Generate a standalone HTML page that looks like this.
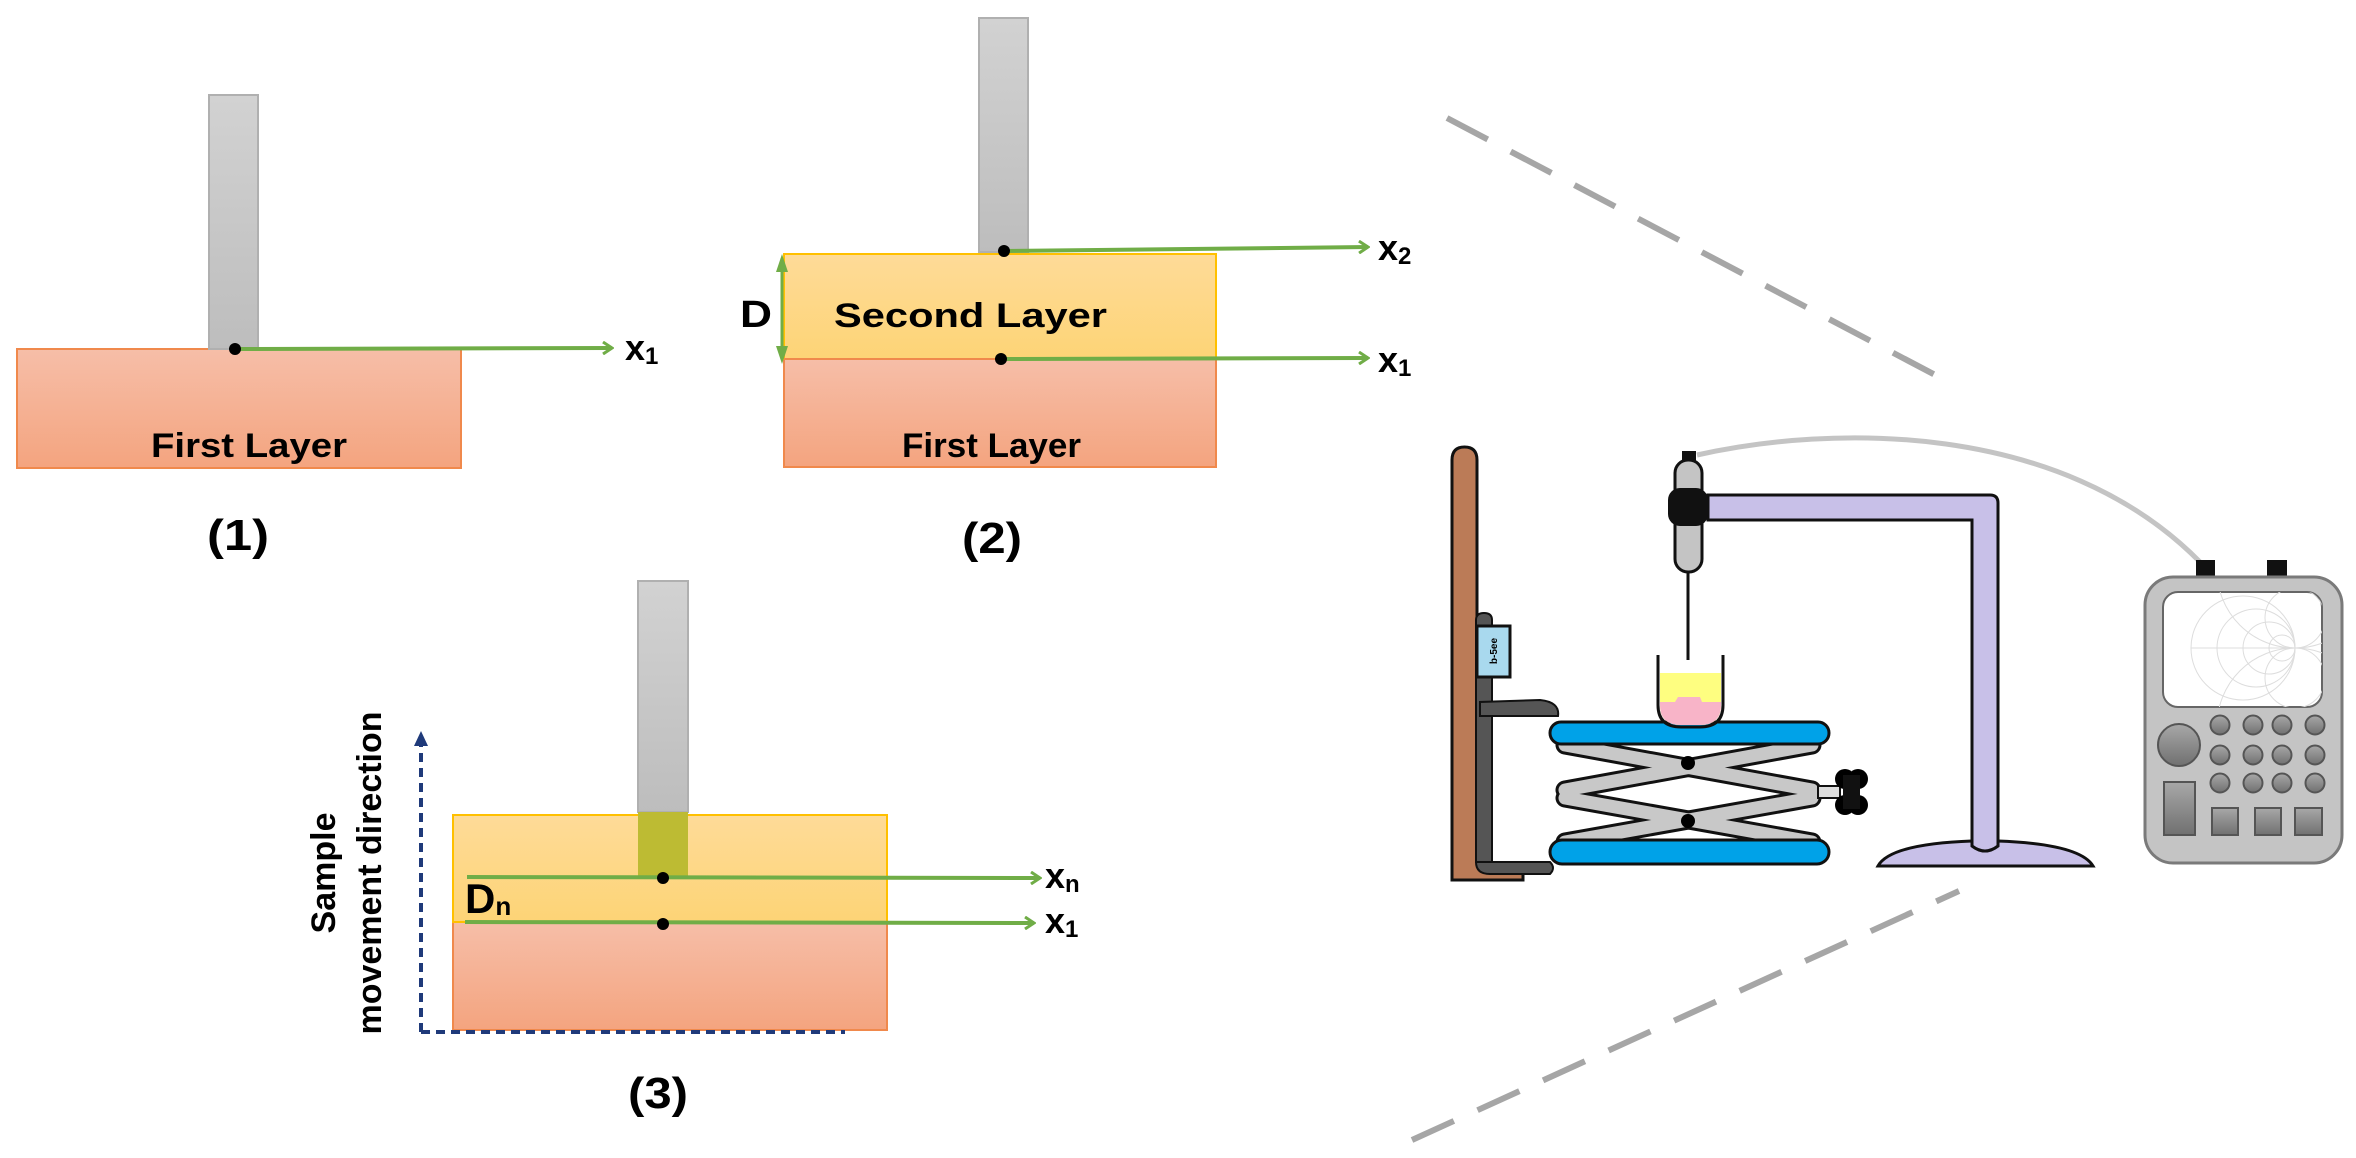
<!DOCTYPE html>
<html><head><meta charset="utf-8"><style>
html,body{margin:0;padding:0;background:#fff;}
svg{display:block;}
text{font-family:"Liberation Sans",sans-serif;font-weight:bold;fill:#000;}
</style></head><body>
<svg width="2356" height="1158" viewBox="0 0 2356 1158" xmlns="http://www.w3.org/2000/svg">
<defs>
<linearGradient id="probe" x1="0" y1="0" x2="0" y2="1"><stop offset="0" stop-color="#d2d2d2"/><stop offset="1" stop-color="#bdbdbd"/></linearGradient>
<linearGradient id="org" x1="0" y1="0" x2="0" y2="1"><stop offset="0" stop-color="#f6bea8"/><stop offset="1" stop-color="#f4a47f"/></linearGradient>
<linearGradient id="yel" x1="0" y1="0" x2="0" y2="1"><stop offset="0" stop-color="#fedb98"/><stop offset="1" stop-color="#fdd476"/></linearGradient>
<linearGradient id="btn" x1="0" y1="0" x2="0" y2="1"><stop offset="0" stop-color="#a8a8a8"/><stop offset="1" stop-color="#707070"/></linearGradient>
<clipPath id="scr"><rect x="2163" y="592" width="159" height="115" rx="15"/></clipPath>
<marker id="ga" markerWidth="12" markerHeight="14" refX="10" refY="7" orient="auto" markerUnits="userSpaceOnUse"><path d="M1,1 L10,7 L1,13" fill="none" stroke="#70ad47" stroke-width="3"/></marker>
</defs>

<!-- Diagram 1 -->
<rect x="17" y="349" width="444" height="119" fill="url(#org)" stroke="#f0894c" stroke-width="2"/>
<rect x="209" y="95" width="49" height="254" fill="url(#probe)" stroke="#b0b0b0" stroke-width="2"/>
<line x1="235" y1="349" x2="612" y2="348" stroke="#70ad47" stroke-width="4" marker-end="url(#ga)"/>
<circle cx="235" cy="349" r="6"/>
<text x="625" y="360" font-size="36">x<tspan font-size="24" dy="4">1</tspan></text>
<text x="151" y="457" font-size="34" textLength="196" lengthAdjust="spacingAndGlyphs">First Layer</text>
<text x="207" y="550" font-size="44" textLength="62" lengthAdjust="spacingAndGlyphs">(1)</text>

<!-- Diagram 2 -->
<rect x="784" y="359" width="432" height="108" fill="url(#org)" stroke="#f0894c" stroke-width="2"/>
<rect x="784" y="254" width="432" height="105" fill="url(#yel)" stroke="#ffc000" stroke-width="2"/>
<line x1="784" y1="359" x2="1216" y2="359" stroke="#f0894c" stroke-width="2"/>
<rect x="979" y="18" width="49" height="234" fill="url(#probe)" stroke="#b0b0b0" stroke-width="2"/>
<line x1="782" y1="258" x2="782" y2="358" stroke="#70ad47" stroke-width="3"/>
<path d="M776,272 L782,254 L788,272 Z M776,346 L782,364 L788,346 Z" fill="#70ad47"/>
<line x1="1004" y1="251" x2="1368" y2="247" stroke="#70ad47" stroke-width="4" marker-end="url(#ga)"/>
<line x1="1001" y1="359" x2="1368" y2="358" stroke="#70ad47" stroke-width="4" marker-end="url(#ga)"/>
<circle cx="1004" cy="251" r="6"/>
<circle cx="1001" cy="359" r="6"/>
<text x="1378" y="260" font-size="36">x<tspan font-size="24" dy="4">2</tspan></text>
<text x="1378" y="372" font-size="36">x<tspan font-size="24" dy="4">1</tspan></text>
<text x="740" y="327" font-size="38" textLength="32" lengthAdjust="spacingAndGlyphs">D</text>
<text x="834" y="327" font-size="34" textLength="273" lengthAdjust="spacingAndGlyphs">Second Layer</text>
<text x="902" y="457" font-size="34" textLength="179" lengthAdjust="spacingAndGlyphs">First Layer</text>
<text x="962" y="553" font-size="44" textLength="60" lengthAdjust="spacingAndGlyphs">(2)</text>

<!-- Diagram 3 -->
<rect x="453" y="922" width="434" height="108" fill="url(#org)" stroke="#f0894c" stroke-width="2"/>
<rect x="453" y="815" width="434" height="107" fill="url(#yel)" stroke="#ffc000" stroke-width="2"/>
<rect x="638" y="581" width="50" height="231" fill="url(#probe)" stroke="#b0b0b0" stroke-width="2"/>
<rect x="638" y="812" width="50" height="65" fill="#bdbb33"/>
<line x1="467" y1="877" x2="1040" y2="878" stroke="#70ad47" stroke-width="4" marker-end="url(#ga)"/>
<line x1="465" y1="922" x2="1034" y2="923" stroke="#70ad47" stroke-width="4" marker-end="url(#ga)"/>
<circle cx="663" cy="878" r="6"/>
<circle cx="663" cy="924" r="6"/>
<text x="1045" y="888" font-size="36">x<tspan font-size="24" dy="4">n</tspan></text>
<text x="1045" y="933" font-size="36">x<tspan font-size="24" dy="4">1</tspan></text>
<text x="465" y="913" font-size="42">D<tspan font-size="26" dy="2">n</tspan></text>
<path d="M421,1032 L421,742 M421,1032 L845,1032" fill="none" stroke="#1f3a7a" stroke-width="4" stroke-dasharray="9,6"/>
<path d="M414,746 L421,731 L428,746 Z" fill="#1f3a7a"/>
<text transform="translate(335,873) rotate(-90)" font-size="34" text-anchor="middle">Sample</text>
<text transform="translate(381,873) rotate(-90)" font-size="34" text-anchor="middle">movement direction</text>
<text x="628" y="1108" font-size="44" textLength="60" lengthAdjust="spacingAndGlyphs">(3)</text>

<!-- Dashed zoom lines -->
<line x1="1447" y1="118" x2="1941" y2="378" stroke="#a6a6a6" stroke-width="6" stroke-dasharray="46,26"/>
<line x1="1412" y1="1140" x2="1959" y2="891" stroke="#a6a6a6" stroke-width="6" stroke-dasharray="46,26"/>

<!-- Equipment -->
<path d="M1697,455 C1830,425 2060,420 2200,562" fill="none" stroke="#c4c4c4" stroke-width="5"/>
<path d="M1452,880 L1452,460 Q1452,447 1464.5,447 Q1477,447 1477,460 L1477,862 L1523,872 L1523,880 Z" fill="#bb7b57" stroke="#111" stroke-width="3"/>
<path d="M1476,862 L1476,620 Q1476,613 1484,613 Q1492,613 1492,620 L1492,862 Z" fill="#555" stroke="#111" stroke-width="2"/>
<path d="M1476,862 L1550,862 Q1556,868 1550,874 L1490,874 Q1476,874 1476,862 Z" fill="#555" stroke="#111" stroke-width="2"/>
<path d="M1480,716 L1480,702 L1540,700 Q1560,702 1558,716 Z" fill="#555" stroke="#111" stroke-width="2"/>
<rect x="1477" y="626" width="33" height="51" fill="#a9d9ee" stroke="#111" stroke-width="3"/>
<text transform="translate(1497,651) rotate(-90)" font-size="10" text-anchor="middle" font-weight="normal">b-5ee</text>
<g stroke-linecap="round" fill="none">
<g stroke="#111" stroke-width="19">
<line x1="1565" y1="790" x2="1812" y2="745"/><line x1="1565" y1="745" x2="1812" y2="790"/>
<line x1="1565" y1="798" x2="1812" y2="842"/><line x1="1565" y1="842" x2="1812" y2="798"/>
</g>
<g stroke="#c8c8c8" stroke-width="13">
<line x1="1565" y1="790" x2="1812" y2="745"/><line x1="1565" y1="745" x2="1812" y2="790"/>
<line x1="1565" y1="798" x2="1812" y2="842"/><line x1="1565" y1="842" x2="1812" y2="798"/>
</g>
</g>
<circle cx="1688" cy="763" r="7"/>
<circle cx="1688" cy="821" r="7"/>
<rect x="1818" y="786" width="22" height="12" fill="#ddd" stroke="#111" stroke-width="2"/>
<circle cx="1845" cy="779" r="10"/><circle cx="1858" cy="779" r="10"/><circle cx="1845" cy="805" r="10"/><circle cx="1858" cy="805" r="10"/>
<rect x="1843" y="775" width="17" height="34" fill="#111"/>
<rect x="1550" y="722" width="279" height="22" rx="11" fill="#00a2e8" stroke="#111" stroke-width="3"/>
<rect x="1550" y="840" width="279" height="24" rx="12" fill="#00a2e8" stroke="#111" stroke-width="3"/>
<path d="M1660,673 L1721,673 L1721,705 Q1721,725 1700,725 L1681,725 Q1660,725 1660,705 Z" fill="#fefe80"/>
<path d="M1660,702 L1675,702 L1678,697 L1700,697 L1702,702 L1721,702 L1721,705 Q1721,725 1700,725 L1681,725 Q1660,725 1660,705 Z" fill="#f8b4c8"/>
<path d="M1658,655 L1658,705 Q1658,727 1681,727 L1700,727 Q1723,727 1723,705 L1723,655" fill="none" stroke="#111" stroke-width="3"/>
<path d="M1708,495 L1990,495 Q1998,495 1998,503 L1998,845 Q1998,852 1985,852 Q1972,852 1972,845 L1972,520 L1708,520 Z" fill="#c8c0e8" stroke="#111" stroke-width="3"/>
<path d="M1878,866 Q1890,844 1972,841 L1972,846 Q1985,856 1998,846 L1998,841 Q2080,844 2093,866 Z" fill="#c8c0e8" stroke="#111" stroke-width="3"/>
<line x1="1688" y1="572" x2="1688" y2="660" stroke="#111" stroke-width="3"/>
<rect x="1675" y="460" width="27" height="112" rx="13" fill="#c4c4c4" stroke="#111" stroke-width="3"/>
<rect x="1682" y="451" width="14" height="10" fill="#111"/>
<rect x="1668" y="488" width="40" height="38" rx="12" fill="#111"/>
<rect x="2196" y="560" width="19" height="18" fill="#111"/>
<rect x="2267" y="560" width="20" height="18" fill="#111"/>
<rect x="2145" y="577" width="197" height="286" rx="28" fill="#c4c4c4" stroke="#7a7a7a" stroke-width="3"/>
<rect x="2163" y="592" width="159" height="115" rx="15" fill="#fff" stroke="#666" stroke-width="2"/>
<g fill="none" stroke="#ddd" stroke-width="1" clip-path="url(#scr)">
<circle cx="2243" cy="648" r="52"/><circle cx="2256" cy="648" r="39"/><circle cx="2269" cy="648" r="26"/><circle cx="2282" cy="648" r="13"/>
<line x1="2191" y1="648" x2="2295" y2="648"/>
<circle cx="2295" cy="618" r="30"/><circle cx="2295" cy="678" r="30"/>
<circle cx="2295" cy="570" r="78"/><circle cx="2295" cy="726" r="78"/>
</g>
<circle cx="2179" cy="745" r="21" fill="url(#btn)" stroke="#555" stroke-width="2"/>
<g fill="url(#btn)" stroke="#555" stroke-width="2">
<circle cx="2220" cy="725" r="9.5"/><circle cx="2253" cy="725" r="9.5"/><circle cx="2282" cy="725" r="9.5"/><circle cx="2315" cy="725" r="9.5"/>
<circle cx="2220" cy="755" r="9.5"/><circle cx="2253" cy="755" r="9.5"/><circle cx="2282" cy="755" r="9.5"/><circle cx="2315" cy="755" r="9.5"/>
<circle cx="2220" cy="783" r="9.5"/><circle cx="2253" cy="783" r="9.5"/><circle cx="2282" cy="783" r="9.5"/><circle cx="2315" cy="783" r="9.5"/>
<rect x="2164" y="782" width="31" height="53"/>
<rect x="2212" y="808" width="26" height="27"/><rect x="2255" y="808" width="26" height="27"/><rect x="2295" y="808" width="27" height="27"/>
</g>
</svg>
</body></html>
